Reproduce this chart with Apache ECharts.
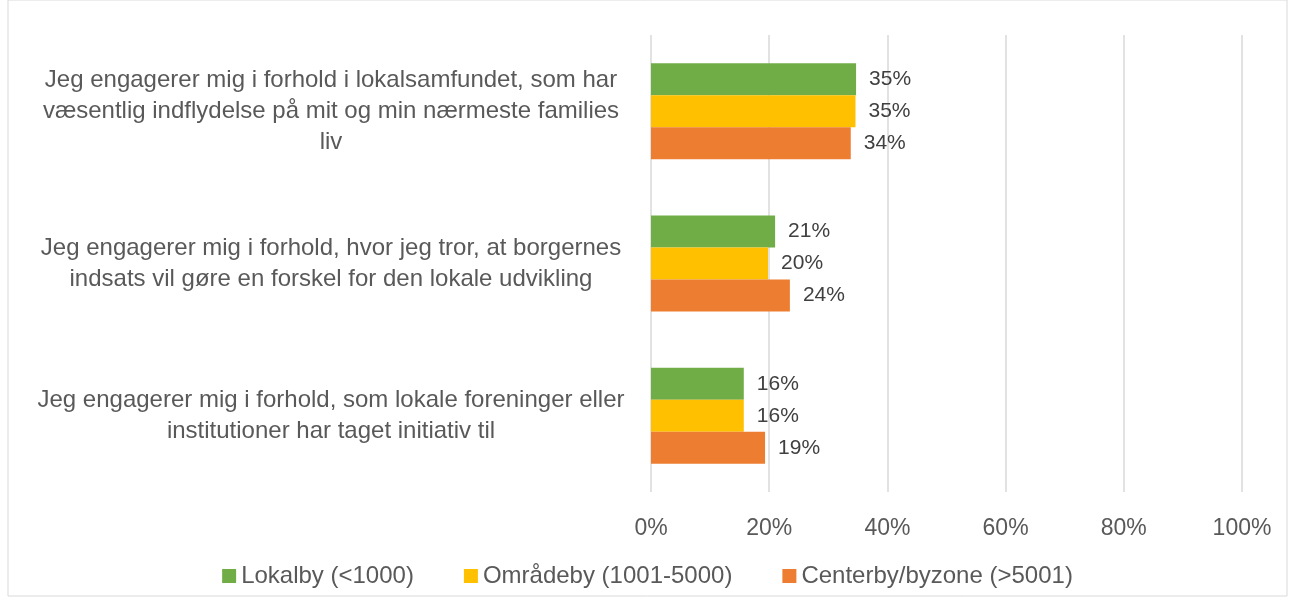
<!DOCTYPE html>
<html style="height: 100%">
<head>
    <meta charset="utf-8">
</head>
<body style="height: 100%; margin: 0; background: #fff">
<div id="container" style="height: 100%"></div>
<script src="https://cdn.jsdelivr.net/npm/echarts@6/dist/echarts.min.js"></script>
<script type="text/javascript">
    // data
    var categories = [
        'Jeg engagerer mig i forhold i lokalsamfundet, som har\nvæsentlig indflydelse på mit og min nærmeste families\nliv',
        'Jeg engagerer mig i forhold, hvor jeg tror, at borgernes\nindsats vil gøre en forskel for den lokale udvikling',
        'Jeg engagerer mig i forhold, som lokale foreninger eller\ninstitutioner har taget initiativ til'
    ];
    var seriesNames = ['Lokalby (<1000)', 'Områdeby (1001-5000)', 'Centerby/byzone (>5001)'];
    var lokalby = [34.7, 21.0, 15.7];
    var omraadeby = [34.6, 19.8, 15.7];
    var centerby = [33.8, 23.5, 19.3];
    var colors = ['#70ad47', '#ffc000', '#ed7d31'];

    var dom = document.getElementById("container");
    var myChart = echarts.init(dom);
    var font = 'Liberation Sans';

    function makeSeries(name, data, color) {
        return {
            name: name,
            type: 'bar',
            data: data,
            barGap: '0%',
            barCategoryGap: '37%',
            itemStyle: { color: color },
            label: {
                show: true,
                position: 'right',
                distance: 13,
                color: '#404040',
                fontFamily: font,
                fontSize: 21,
                formatter: function (p) { return Math.round(p.value) + '%'; }
            }
        };
    }

    var option = {
        animation: false,
        color: colors,
        graphic: [{
            type: 'rect',
            shape: { x: 8, y: 0, width: 1279, height: 596 },
            style: { fill: 'none', stroke: '#d9d9d9', lineWidth: 1 }
        }],
        legend: {
            bottom: 4,
            left: 'center',
            itemWidth: 14,
            itemHeight: 14,
            itemGap: 50,
            icon: 'rect',
            textStyle: { color: '#595959', fontFamily: font, fontSize: 24 },
            data: seriesNames
        },
        grid: {
            left: 651,
            right: 53,
            top: 35,
            bottom: 105
        },
        xAxis: {
            type: 'value',
            min: 0,
            max: 100,
            interval: 20,
            axisLine: { show: false },
            axisTick: { show: false },
            splitLine: { lineStyle: { color: '#d9d9d9', width: 1.5 } },
            axisLabel: {
                color: '#595959',
                fontFamily: font,
                fontSize: 23,
                margin: 25,
                formatter: '{value}%'
            }
        },
        yAxis: {
            type: 'category',
            inverse: true,
            data: categories,
            axisLine: { show: false },
            axisTick: { show: false },
            axisLabel: {
                color: '#595959',
                fontFamily: font,
                fontSize: 24,
                lineHeight: 31,
                align: 'center',
                margin: 320
            }
        },
        series: [
            makeSeries(seriesNames[0], lokalby, colors[0]),
            makeSeries(seriesNames[1], omraadeby, colors[1]),
            makeSeries(seriesNames[2], centerby, colors[2])
        ]
    };
    myChart.setOption(option);
    window.addEventListener("resize", function () {
        myChart.resize();
    });
</script>
</body>
</html>
